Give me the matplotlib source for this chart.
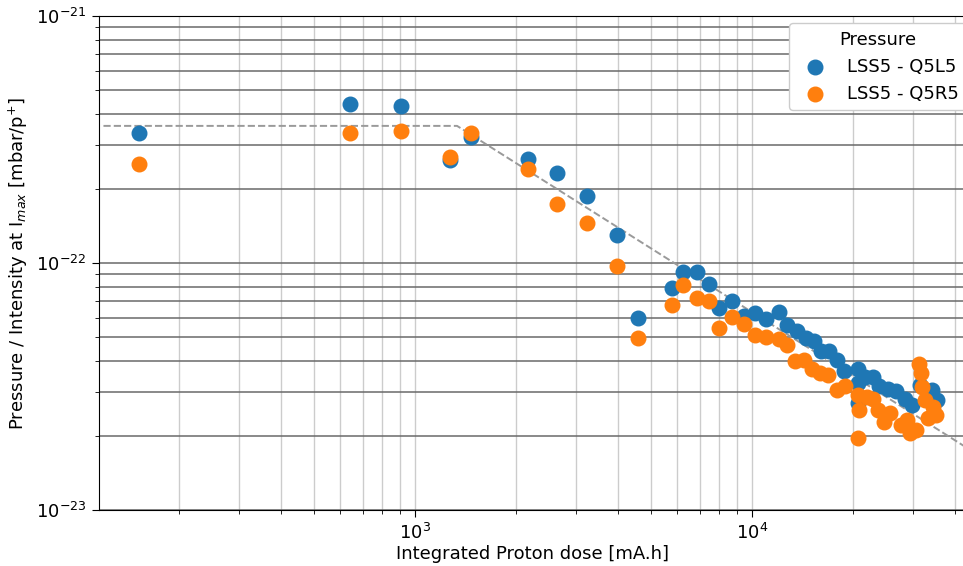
import numpy as np
import matplotlib.pyplot as plt

# Integrated proton dose [mA.h] and normalised pressure for the two gauges
dose_q5l5 = [152, 641, 909, 1270, 1467, 2163, 2636, 3236, 3975, 4590,
             5794, 6237, 6870, 7451, 7980, 8725, 9463, 10210, 11010, 12030,
             12700, 13600, 14460, 15270, 16030, 16920, 17880, 18750, 20640, 20640,
             20640, 21630, 22840, 23840, 25350, 26740, 28440, 29830, 31550, 34200,
             35400]
p_q5l5 = [3.36e-22, 4.40e-22, 4.32e-22, 2.61e-22, 3.24e-22, 2.64e-22, 2.31e-22, 1.87e-22, 1.30e-22, 5.99e-23,
          7.92e-23, 9.20e-23, 9.20e-23, 8.22e-23, 6.57e-23, 7.02e-23, 6.10e-23, 6.28e-23, 5.93e-23, 6.34e-23,
          5.61e-23, 5.31e-23, 4.97e-23, 4.83e-23, 4.40e-23, 4.40e-23, 4.05e-23, 3.65e-23, 3.72e-23, 3.27e-23,
          2.71e-23, 3.45e-23, 3.45e-23, 3.18e-23, 3.09e-23, 3.03e-23, 2.81e-23, 2.66e-23, 3.21e-23, 3.06e-23,
          2.79e-23]

dose_q5r5 = [152, 641, 909, 1270, 1467, 2163, 2636, 3236, 3975, 4590,
             5794, 6237, 6870, 7451, 7980, 8725, 9463, 10210, 11010, 12030,
             12700, 13400, 14300, 15100, 15900, 16800, 17880, 18900, 20640, 20800,
             20640, 21900, 22840, 23700, 24700, 25700, 27600, 28900, 29500, 30600,
             31200, 31700, 31900, 32600, 33300, 34500, 35100]
p_q5r5 = [2.52e-22, 3.36e-22, 3.42e-22, 2.69e-22, 3.36e-22, 2.40e-22, 1.73e-22, 1.45e-22, 9.72e-23, 4.97e-23,
          6.76e-23, 8.15e-23, 7.22e-23, 7.02e-23, 5.46e-23, 6.04e-23, 5.66e-23, 5.11e-23, 5.01e-23, 4.92e-23,
          4.66e-23, 4.01e-23, 4.05e-23, 3.72e-23, 3.59e-23, 3.52e-23, 3.06e-23, 3.18e-23, 2.92e-23, 2.54e-23,
          1.96e-23, 2.87e-23, 2.81e-23, 2.54e-23, 2.27e-23, 2.47e-23, 2.21e-23, 2.31e-23, 2.05e-23, 2.11e-23,
          3.90e-23, 3.59e-23, 3.15e-23, 2.79e-23, 2.36e-23, 2.61e-23, 2.43e-23]

# broken power-law trend: plateau then decay
fit_dose = [119, 1333, 43000]
fit_p = [3.59e-22, 3.59e-22, 1.80e-23]

fig = plt.figure(figsize=(9.63, 5.66), dpi=100)
ax = fig.add_axes([99 / 963, 56 / 566, 868 / 963, 494 / 566])

ax.set_xscale("log")
ax.set_yscale("log")

ax.grid(True, which="both", axis="x", color="#cccccc", linewidth=1.0)
ax.grid(True, which="both", axis="y", color="#6a6a6a", linewidth=1.1)
ax.set_axisbelow(True)

ax.plot(fit_dose, fit_p, "--", color="#9a9a9a", linewidth=1.4, zorder=2)
ax.scatter(dose_q5l5, p_q5l5, s=110, color="#1f77b4", label="LSS5 - Q5L5", zorder=3)
ax.scatter(dose_q5r5, p_q5r5, s=110, color="#ff7f0e", label="LSS5 - Q5R5", zorder=3)

ax.set_xlim(10 ** (3 + (99 - 415) / 337), 10 ** (3 + (967 - 415) / 337))
ax.set_ylim(1e-23, 1e-21)

ax.tick_params(which="major", labelsize=13, length=5, pad=4)
ax.tick_params(which="minor", length=3)
ax.set_xlabel("Integrated Proton dose [mA.h]", fontsize=13, labelpad=2)
ax.set_ylabel("Pressure / Intensity at I$_{max}$ [mbar/p$^{+}$]", fontsize=13)

leg = ax.legend(title="Pressure", fontsize=13, title_fontsize=13,
                loc="upper right", bbox_to_anchor=(0.999, 0.985), borderaxespad=0)
leg.get_frame().set_alpha(1.0)

plt.savefig("out.png", dpi=100)
